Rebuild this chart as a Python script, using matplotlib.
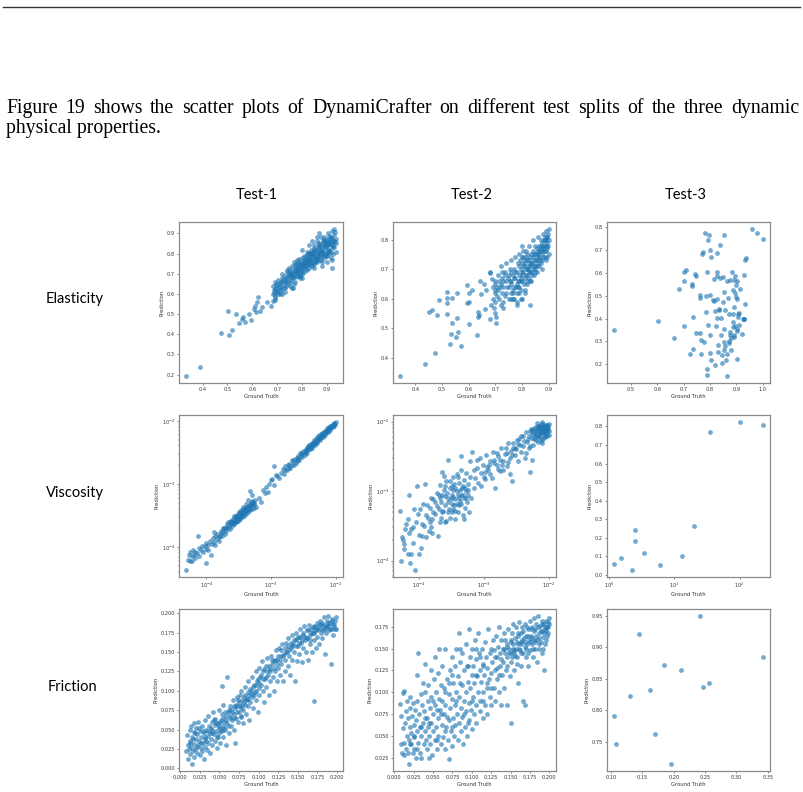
import numpy as np
import matplotlib
matplotlib.use("Agg")
import matplotlib.pyplot as plt

# ---------------- data ----------------
col_titles = ["Test-1", "Test-2", "Test-3"]
row_titles = ["Elasticity", "Viscosity", "Friction"]

paragraph_line1 = "Figure 19 shows the scatter plots of DynamiCrafter on different test splits of the three dynamic"
paragraph_line2 = "physical properties."

# Elasticity, Test-1 (x = ground truth, y = prediction)
elast_t1 = [
    (0.335, 0.195), (0.39, 0.24), (0.475, 0.405), (0.505, 0.395), (0.52, 0.42), (0.503, 0.515),
    (0.535, 0.50), (0.545, 0.455), (0.56, 0.475), (0.562, 0.487), (0.57, 0.46), (0.585, 0.50),
    (0.595, 0.47), (0.605, 0.525), (0.61, 0.54), (0.615, 0.51), (0.62, 0.56), (0.622, 0.585),
    (0.63, 0.515), (0.64, 0.535), (0.66, 0.56), (0.675, 0.54), (0.685, 0.565), (0.69, 0.58),
    (0.685, 0.60), (0.685, 0.64), (0.687, 0.62), (0.69, 0.66), (0.69, 0.59), (0.695, 0.63),
    (0.70, 0.61), (0.70, 0.65), (0.705, 0.67), (0.71, 0.62), (0.71, 0.64), (0.715, 0.66),
    (0.72, 0.60), (0.72, 0.68), (0.725, 0.63), (0.73, 0.66), (0.73, 0.69), (0.735, 0.64),
    (0.74, 0.67), (0.74, 0.71), (0.745, 0.65), (0.75, 0.69), (0.75, 0.72), (0.755, 0.67),
    (0.76, 0.70), (0.76, 0.74), (0.765, 0.63), (0.765, 0.68), (0.77, 0.72), (0.77, 0.70),
    (0.775, 0.75), (0.78, 0.69), (0.78, 0.73), (0.785, 0.71), (0.785, 0.76), (0.79, 0.74),
    (0.79, 0.68), (0.795, 0.72), (0.80, 0.75), (0.80, 0.70), (0.80, 0.78), (0.805, 0.73),
    (0.81, 0.76), (0.81, 0.71), (0.815, 0.79), (0.815, 0.74), (0.82, 0.77), (0.82, 0.72),
    (0.825, 0.75), (0.825, 0.80), (0.83, 0.78), (0.83, 0.73), (0.835, 0.76), (0.835, 0.82),
    (0.84, 0.79), (0.84, 0.74), (0.845, 0.77), (0.845, 0.81), (0.85, 0.75), (0.85, 0.80),
    (0.85, 0.84), (0.855, 0.78), (0.855, 0.82), (0.86, 0.76), (0.86, 0.80), (0.86, 0.86),
    (0.865, 0.83), (0.865, 0.79), (0.87, 0.77), (0.87, 0.81), (0.87, 0.85), (0.875, 0.88),
    (0.875, 0.82), (0.88, 0.79), (0.88, 0.84), (0.88, 0.76), (0.885, 0.86), (0.885, 0.81),
    (0.89, 0.83), (0.89, 0.78), (0.89, 0.88), (0.895, 0.85), (0.895, 0.80), (0.90, 0.82),
    (0.90, 0.87), (0.90, 0.76), (0.905, 0.84), (0.905, 0.90), (0.91, 0.80), (0.91, 0.86),
    (0.91, 0.82), (0.915, 0.88), (0.915, 0.78), (0.92, 0.84), (0.92, 0.91), (0.92, 0.73),
    (0.925, 0.86), (0.925, 0.80), (0.93, 0.89), (0.93, 0.83), (0.93, 0.92), (0.935, 0.87),
    (0.935, 0.81), (0.935, 0.85), (0.79, 0.69), (0.74, 0.72), (0.72, 0.70), (0.86, 0.88),
    (0.87, 0.90), (0.83, 0.84), (0.80, 0.82), (0.84, 0.86), (0.82, 0.81), (0.78, 0.77),
    (0.73, 0.61), (0.71, 0.60), (0.69, 0.57), (0.80, 0.68), (0.85, 0.73), (0.88, 0.74),
    (0.90, 0.79), (0.92, 0.77), (0.77, 0.66), (0.75, 0.64), (0.76, 0.63), (0.81, 0.74),
    (0.83, 0.76), (0.86, 0.78), (0.88, 0.81), (0.90, 0.84), (0.91, 0.85), (0.92, 0.87),
    (0.87, 0.83), (0.84, 0.80), (0.82, 0.78), (0.79, 0.75), (0.77, 0.73), (0.75, 0.70),
    (0.93, 0.86), (0.89, 0.86), (0.85, 0.82), (0.83, 0.80), (0.81, 0.77), (0.78, 0.71),
    (0.688, 0.605), (0.692, 0.625), (0.697, 0.645), (0.702, 0.60), (0.707, 0.635), (0.712, 0.655),
    (0.717, 0.62), (0.722, 0.645), (0.727, 0.675), (0.732, 0.63), (0.737, 0.66), (0.742, 0.69),
    (0.747, 0.705), (0.752, 0.66), (0.757, 0.685), (0.762, 0.715), (0.767, 0.65), (0.772, 0.685),
    (0.777, 0.71), (0.782, 0.745), (0.787, 0.69), (0.792, 0.725), (0.797, 0.76), (0.802, 0.71),
    (0.807, 0.74), (0.812, 0.775), (0.817, 0.725), (0.822, 0.755), (0.827, 0.785), (0.832, 0.745),
    (0.837, 0.775), (0.842, 0.805), (0.847, 0.755), (0.852, 0.785), (0.857, 0.815), (0.862, 0.775),
    (0.867, 0.805), (0.872, 0.835), (0.877, 0.79), (0.882, 0.82), (0.887, 0.85), (0.892, 0.80),
    (0.897, 0.83), (0.902, 0.86), (0.907, 0.815), (0.912, 0.845), (0.917, 0.875), (0.922, 0.825),
    (0.927, 0.855), (0.932, 0.905), (0.878, 0.77), (0.898, 0.79), (0.918, 0.81), (0.858, 0.765),
    (0.838, 0.755), (0.818, 0.745), (0.798, 0.735), (0.778, 0.72), (0.758, 0.705), (0.738, 0.68),
    (0.718, 0.665), (0.698, 0.615), (0.868, 0.845), (0.888, 0.865), (0.908, 0.885), (0.848, 0.825),
    (0.828, 0.805), (0.808, 0.79), (0.788, 0.775), (0.768, 0.76), (0.748, 0.73), (0.926, 0.835),
    (0.914, 0.855), (0.903, 0.808), (0.893, 0.835), (0.883, 0.80), (0.873, 0.815), (0.863, 0.79),
    (0.853, 0.765), (0.843, 0.79), (0.833, 0.77), (0.823, 0.765), (0.813, 0.76), (0.803, 0.755),
    (0.793, 0.70), (0.783, 0.725), (0.773, 0.745), (0.763, 0.69),
]

# Elasticity, Test-2
elast_t2 = [
    (0.344, 0.339), (0.436, 0.380), (0.474, 0.417), (0.453, 0.555), (0.462, 0.562), (0.489, 0.594),
    (0.480, 0.546), (0.519, 0.621), (0.519, 0.603), (0.519, 0.587), (0.537, 0.602), (0.555, 0.619),
    (0.519, 0.549), (0.555, 0.534), (0.536, 0.516), (0.532, 0.479), (0.561, 0.486), (0.553, 0.471),
    (0.531, 0.447), (0.573, 0.439), (0.595, 0.647), (0.611, 0.631), (0.603, 0.619), (0.592, 0.587),
    (0.602, 0.589), (0.601, 0.513), (0.631, 0.478), (0.644, 0.661), (0.658, 0.649), (0.648, 0.617),
    (0.665, 0.629), (0.637, 0.556), (0.640, 0.543), (0.636, 0.539), (0.661, 0.565), (0.681, 0.531),
    (0.702, 0.537), (0.701, 0.518), (0.679, 0.687), (0.688, 0.667), (0.699, 0.651),
    (0.685, 0.58), (0.69, 0.60), (0.69, 0.64), (0.695, 0.57), (0.70, 0.62), (0.70, 0.66), (0.70, 0.59),
    (0.71, 0.63), (0.71, 0.68), (0.715, 0.60), (0.72, 0.65), (0.72, 0.71), (0.725, 0.62), (0.725, 0.67),
    (0.73, 0.59), (0.73, 0.64), (0.735, 0.69), (0.74, 0.66), (0.74, 0.62), (0.74, 0.72),
    (0.75, 0.64), (0.75, 0.68), (0.75, 0.60), (0.755, 0.70), (0.76, 0.66), (0.76, 0.62), (0.76, 0.73),
    (0.765, 0.68), (0.765, 0.60), (0.77, 0.64), (0.77, 0.70), (0.775, 0.67), (0.775, 0.74), (0.78, 0.62),
    (0.78, 0.69), (0.78, 0.59), (0.785, 0.72), (0.785, 0.66), (0.79, 0.68), (0.79, 0.64), (0.79, 0.75),
    (0.795, 0.70), (0.80, 0.66), (0.80, 0.72), (0.80, 0.78), (0.80, 0.60), (0.805, 0.69), (0.805, 0.74),
    (0.81, 0.67), (0.81, 0.71), (0.81, 0.63), (0.815, 0.76), (0.815, 0.70), (0.82, 0.68), (0.82, 0.73),
    (0.82, 0.65), (0.825, 0.71), (0.825, 0.78), (0.83, 0.69), (0.83, 0.74), (0.83, 0.58), (0.835, 0.72),
    (0.835, 0.66), (0.84, 0.70), (0.84, 0.76), (0.84, 0.80), (0.845, 0.73), (0.845, 0.68), (0.85, 0.71),
    (0.85, 0.75), (0.85, 0.78), (0.855, 0.73), (0.855, 0.69), (0.86, 0.76), (0.86, 0.72), (0.86, 0.81),
    (0.865, 0.74), (0.865, 0.78), (0.87, 0.72), (0.87, 0.76), (0.87, 0.80), (0.875, 0.75), (0.875, 0.70),
    (0.88, 0.78), (0.88, 0.74), (0.88, 0.82), (0.885, 0.76), (0.885, 0.80), (0.89, 0.73), (0.89, 0.78),
    (0.89, 0.83), (0.895, 0.77), (0.895, 0.81), (0.90, 0.75), (0.90, 0.80), (0.90, 0.835), (0.898, 0.78),
    (0.893, 0.81), (0.76, 0.60), (0.77, 0.60), (0.78, 0.58), (0.795, 0.60), (0.81, 0.62), (0.70, 0.55),
    (0.72, 0.58), (0.73, 0.57), (0.68, 0.69), (0.79, 0.71), (0.80, 0.69), (0.81, 0.73), (0.82, 0.70),
    (0.83, 0.71), (0.84, 0.72), (0.85, 0.69), (0.86, 0.74), (0.87, 0.78), (0.88, 0.76), (0.89, 0.80),
    (0.80, 0.74), (0.79, 0.66), (0.78, 0.65), (0.77, 0.67), (0.76, 0.69), (0.82, 0.75), (0.83, 0.66),
    (0.705, 0.64), (0.715, 0.66), (0.725, 0.69), (0.735, 0.61), (0.745, 0.64), (0.755, 0.66),
    (0.765, 0.63), (0.775, 0.69), (0.785, 0.64), (0.795, 0.67), (0.805, 0.71), (0.815, 0.68),
    (0.825, 0.73), (0.835, 0.69), (0.845, 0.75), (0.855, 0.77), (0.865, 0.76), (0.875, 0.79),
    (0.885, 0.78), (0.895, 0.79), (0.792, 0.73), (0.802, 0.68), (0.812, 0.72), (0.822, 0.70),
    (0.832, 0.72), (0.842, 0.74), (0.852, 0.73), (0.862, 0.75), (0.872, 0.77), (0.882, 0.80),
    (0.892, 0.76), (0.899, 0.82), (0.888, 0.81), (0.878, 0.77), (0.868, 0.73), (0.858, 0.71),
    (0.848, 0.70), (0.838, 0.68), (0.828, 0.67), (0.818, 0.66), (0.808, 0.65), (0.798, 0.63),
    (0.788, 0.62), (0.778, 0.64), (0.768, 0.62), (0.758, 0.65), (0.748, 0.67), (0.738, 0.68),
    (0.728, 0.66), (0.718, 0.64), (0.708, 0.61), (0.698, 0.63), (0.795, 0.66), (0.805, 0.76),
    (0.815, 0.74), (0.825, 0.69), (0.835, 0.75), (0.845, 0.71), (0.855, 0.75), (0.865, 0.71),
    (0.875, 0.73), (0.885, 0.74), (0.895, 0.74),
]

# Elasticity, Test-3
elast_t3 = [
    (0.437, 0.348), (0.601, 0.390), (0.662, 0.316), (0.684, 0.530), (0.703, 0.605), (0.709, 0.614),
    (0.703, 0.565), (0.703, 0.366), (0.725, 0.245), (0.732, 0.551), (0.732, 0.541), (0.735, 0.407),
    (0.735, 0.266), (0.743, 0.595), (0.746, 0.585), (0.747, 0.337), (0.761, 0.504), (0.761, 0.492),
    (0.763, 0.337), (0.766, 0.245), (0.767, 0.308), (0.768, 0.681), (0.772, 0.691), (0.778, 0.299),
    (0.780, 0.777), (0.785, 0.501), (0.787, 0.605), (0.785, 0.430), (0.788, 0.180), (0.789, 0.152),
    (0.791, 0.372), (0.796, 0.765), (0.794, 0.746), (0.799, 0.700), (0.801, 0.504), (0.801, 0.330),
    (0.802, 0.251), (0.805, 0.671), (0.805, 0.218), (0.813, 0.482), (0.815, 0.572), (0.817, 0.475),
    (0.819, 0.434), (0.819, 0.196), (0.822, 0.367), (0.825, 0.587), (0.825, 0.686), (0.827, 0.488),
    (0.827, 0.403), (0.828, 0.606), (0.829, 0.254), (0.832, 0.286), (0.833, 0.437), (0.834, 0.443),
    (0.837, 0.723), (0.839, 0.578), (0.842, 0.404), (0.842, 0.330), (0.844, 0.240), (0.846, 0.207),
    (0.848, 0.583), (0.851, 0.472), (0.852, 0.768), (0.852, 0.356), (0.853, 0.298), (0.853, 0.264),
    (0.854, 0.518), (0.856, 0.437), (0.857, 0.278), (0.861, 0.219), (0.863, 0.244), (0.866, 0.150),
    (0.866, 0.563), (0.870, 0.492), (0.871, 0.292), (0.873, 0.418), (0.873, 0.303), (0.875, 0.570),
    (0.877, 0.343), (0.877, 0.329), (0.880, 0.264), (0.880, 0.313), (0.885, 0.603), (0.886, 0.524),
    (0.887, 0.418), (0.888, 0.385), (0.888, 0.362), (0.890, 0.330), (0.891, 0.320), (0.892, 0.570),
    (0.893, 0.451), (0.895, 0.585), (0.896, 0.512), (0.897, 0.368), (0.899, 0.547), (0.900, 0.495),
    (0.901, 0.353), (0.902, 0.224), (0.902, 0.565), (0.902, 0.488), (0.903, 0.346), (0.905, 0.419),
    (0.906, 0.407), (0.909, 0.423), (0.910, 0.374), (0.916, 0.529), (0.921, 0.334), (0.924, 0.398),
    (0.928, 0.590), (0.929, 0.400), (0.930, 0.398), (0.932, 0.463), (0.933, 0.655), (0.937, 0.665),
    (0.958, 0.791), (0.978, 0.777), (1.000, 0.748),
]

# Viscosity, Test-1 (log10 of ground truth, log10 of prediction)
visc_t1_log = [
    (-4.31, -4.36), (-4.29, -4.20), (-4.27, -4.12), (-4.26, -4.23), (-4.25, -4.08), (-4.23, -4.15),
    (-4.22, -4.22), (-4.21, -4.05), (-4.19, -4.12), (-4.18, -4.18), (-4.17, -4.08), (-4.135, -3.83),
    (-4.14, -4.10), (-4.12, -4.02), (-4.11, -4.14), (-4.09, -4.05), (-4.07, -3.98), (-4.06, -4.08),
    (-4.00, -4.25), (-4.03, -3.98), (-4.01, -4.04), (-4.00, -3.93), (-3.98, -3.97), (-3.97, -4.05),
    (-3.95, -3.90), (-3.93, -4.13), (-3.92, -3.95), (-3.90, -3.86), (-3.89, -3.92), (-3.87, -3.97),
    (-3.86, -3.82), (-3.84, -3.88), (-3.885, -3.76), (-3.81, -3.84), (-3.80, -3.90), (-3.78, -3.78),
    (-3.77, -3.74), (-3.76, -3.82), (-3.74, -3.76), (-3.73, -3.70), (-3.72, -3.79), (-3.70, -3.68),
    (-3.69, -3.74), (-3.68, -3.64), (-3.67, -3.70), (-3.65, -3.66), (-3.64, -3.60), (-3.63, -3.72),
    (-3.62, -3.63), (-3.61, -3.57), (-3.60, -3.66), (-3.59, -3.60), (-3.58, -3.54), (-3.57, -3.64),
    (-3.56, -3.58), (-3.55, -3.52), (-3.54, -3.61), (-3.53, -3.55), (-3.52, -3.49), (-3.51, -3.58),
    (-3.50, -3.52), (-3.49, -3.46), (-3.48, -3.55), (-3.47, -3.50), (-3.46, -3.44), (-3.45, -3.53),
    (-3.44, -3.47), (-3.43, -3.41), (-3.42, -3.50), (-3.41, -3.44), (-3.40, -3.38), (-3.39, -3.47),
    (-3.38, -3.42), (-3.37, -3.36), (-3.36, -3.44), (-3.35, -3.39), (-3.34, -3.33), (-3.33, -3.42),
    (-3.32, -3.37), (-3.31, -3.30), (-3.30, -3.40), (-3.29, -3.34), (-3.28, -3.28), (-3.27, -3.38),
    (-3.26, -3.32), (-3.25, -3.26), (-3.24, -3.36), (-3.33, -3.11), (-3.30, -3.18), (-3.35, -3.25),
    (-3.18, -3.22), (-3.15, -3.28), (-3.12, -3.10), (-3.10, -3.15), (-3.08, -3.05), (-3.05, -3.12),
    (-3.03, -3.00), (-3.00, -2.94), (-2.98, -2.92), (-2.95, -3.02), (-2.93, -2.85), (-2.90, -2.88),
    (-2.95, -2.71), (-2.85, -2.82), (-2.82, -2.76), (-2.80, -2.84), (-2.78, -2.72), (-2.75, -2.78),
    (-2.72, -2.68), (-2.70, -2.74), (-2.68, -2.62), (-2.65, -2.70), (-2.63, -2.60), (-2.60, -2.64),
    (-2.58, -2.55), (-2.56, -2.62), (-2.54, -2.52), (-2.52, -2.57), (-2.50, -2.48), (-2.48, -2.54),
    (-2.46, -2.44), (-2.44, -2.50), (-2.42, -2.40), (-2.40, -2.45), (-2.38, -2.36), (-2.36, -2.42),
    (-2.34, -2.33), (-2.32, -2.38), (-2.30, -2.29), (-2.28, -2.34), (-2.26, -2.25), (-2.24, -2.30),
    (-2.22, -2.21), (-2.20, -2.26), (-2.18, -2.17), (-2.16, -2.22), (-2.14, -2.14), (-2.12, -2.18),
    (-2.10, -2.10), (-2.08, -2.14), (-2.06, -2.06), (-2.04, -2.10), (-2.02, -2.03), (-2.01, -2.06),
    (-2.00, -2.02), (-2.03, -2.05), (-2.05, -2.08), (-2.07, -2.10), (-2.09, -2.07), (-2.11, -2.13),
    (-2.13, -2.11), (-2.15, -2.17), (-2.17, -2.15), (-2.19, -2.21), (-2.21, -2.19), (-2.23, -2.25),
    (-2.25, -2.22), (-2.27, -2.29), (-2.29, -2.26), (-2.31, -2.33), (-2.33, -2.30), (-2.35, -2.37),
    (-2.37, -2.34), (-2.39, -2.41), (-2.41, -2.38), (-2.43, -2.45), (-2.45, -2.42), (-2.47, -2.49),
    (-2.55, -2.50), (-2.62, -2.66), (-2.66, -2.64), (-2.74, -2.70), (-2.88, -2.90), (-3.45, -3.48),
    (-3.50, -3.45), (-3.55, -3.56), (-3.60, -3.62), (-3.43, -3.37), (-3.38, -3.32),
    (-3.62, -3.58), (-3.58, -3.62), (-3.54, -3.50), (-3.50, -3.56), (-3.46, -3.42), (-3.42, -3.46),
    (-3.38, -3.38), (-3.34, -3.40), (-3.30, -3.30), (-3.27, -3.32), (-3.57, -3.51), (-3.53, -3.58),
    (-3.49, -3.49), (-3.45, -3.45), (-3.41, -3.40), (-3.37, -3.43), (-3.33, -3.34), (-3.29, -3.27),
    (-3.66, -3.61), (-3.71, -3.72), (-3.75, -3.70), (-3.79, -3.82), (-3.83, -3.80), (-2.58, -2.60),
    (-2.52, -2.50), (-2.46, -2.48), (-2.42, -2.43), (-2.38, -2.40), (-2.34, -2.36), (-2.30, -2.32),
    (-2.26, -2.28), (-2.22, -2.23), (-2.18, -2.20), (-2.14, -2.16), (-2.10, -2.12), (-2.06, -2.08),
    (-2.02, -2.04), (-2.04, -2.07), (-2.08, -2.11), (-2.12, -2.15), (-2.16, -2.19), (-2.20, -2.23),
    (-2.24, -2.27), (-2.28, -2.31), (-2.32, -2.35), (-2.36, -2.39), (-2.40, -2.43), (-2.44, -2.46),
    (-2.48, -2.51), (-2.53, -2.55), (-2.60, -2.58), (-2.67, -2.69), (-2.72, -2.75), (-2.79, -2.77),
]

# Viscosity, Test-2 (log10 of ground truth, log10 of prediction)
visc_t2_log = [
    (-4.29, -3.29), (-4.28, -4.01), (-4.26, -3.66), (-4.23, -3.76), (-4.23, -3.83), (-4.22, -3.55),
    (-4.20, -3.47), (-4.17, -3.40), (-4.15, -3.06), (-4.14, -4.04), (-4.12, -3.91), (-4.10, -3.52),
    (-4.07, -4.13), (-4.04, -2.93), (-4.02, -3.33), (-4.00, -3.63), (-3.99, -3.26), (-3.97, -3.82),
    (-3.96, -3.47), (-3.94, -3.19), (-3.91, -2.90), (-3.89, -3.66), (-3.86, -3.38), (-3.84, -3.24),
    (-3.81, -3.52), (-3.78, -3.12), (-3.76, -3.33), (-3.73, -3.02), (-3.71, -3.64), (-3.68, -2.91),
    (-3.65, -2.72), (-3.63, -3.28), (-3.60, -3.07), (-3.58, -3.43), (-3.55, -2.55), (-3.53, -2.86),
    (-3.50, -3.19), (-3.47, -2.98), (-3.45, -3.28), (-3.42, -2.76), (-3.40, -3.05), (-3.37, -3.14),
    (-3.35, -2.50), (-3.32, -2.93), (-3.29, -3.24), (-3.27, -2.74), (-3.24, -3.05), (-3.22, -2.57),
    (-3.19, -2.43), (-3.16, -2.95), (-3.14, -2.81), (-3.11, -2.67), (-3.09, -2.88), (-3.06, -2.53),
    (-3.04, -2.74), (-3.01, -2.62), (-2.98, -2.83), (-2.96, -2.48), (-2.93, -2.69), (-2.91, -2.57),
    (-2.88, -2.81), (-2.86, -2.43), (-2.83, -2.95), (-2.80, -2.62), (-2.78, -2.50), (-2.75, -2.71),
    (-2.73, -2.38), (-2.70, -2.57), (-2.68, -2.46), (-2.65, -2.64), (-2.62, -2.31), (-2.60, -2.53),
    (-2.57, -2.86), (-2.55, -2.38), (-2.52, -2.48), (-2.49, -2.26), (-2.47, -2.57), (-2.44, -2.34),
    (-2.42, -2.43), (-2.39, -2.21), (-2.37, -2.53), (-2.34, -2.29), (-2.31, -2.38), (-2.29, -2.14),
    (-2.28, -2.72), (-2.26, -2.24), (-2.24, -2.33), (-2.21, -2.12), (-2.19, -2.19), (-2.16, -2.29),
    (-2.13, -2.09), (-2.11, -2.17), (-2.10, -2.31), (-2.09, -2.07), (-2.06, -2.14), (-2.05, -2.22),
    (-2.03, -2.05), (-2.02, -2.12), (-2.00, -2.19),
    (-3.70, -3.05), (-3.66, -3.15), (-3.62, -2.98), (-3.60, -3.20), (-3.57, -3.02), (-3.55, -3.10),
    (-3.52, -2.95), (-3.50, -3.05), (-3.48, -3.25), (-3.46, -2.90), (-3.44, -3.12), (-3.41, -3.00),
    (-3.39, -2.88), (-3.38, -3.20), (-3.36, -3.06), (-3.34, -2.95), (-3.33, -3.35), (-3.31, -3.10),
    (-3.30, -2.84), (-3.28, -3.00), (-3.26, -3.15), (-3.25, -2.90), (-3.23, -3.30), (-3.21, -2.80),
    (-3.52, -3.38), (-3.58, -2.85), (-3.64, -3.30), (-3.68, -3.45), (-3.75, -3.15), (-3.45, -3.40),
    (-3.40, -2.80), (-3.35, -2.70), (-3.30, -3.40), (-3.48, -2.80), (-3.62, -2.78),
    (-2.30, -2.20), (-2.27, -2.10), (-2.25, -2.18), (-2.22, -2.25), (-2.20, -2.08), (-2.18, -2.14),
    (-2.17, -2.22), (-2.15, -2.06), (-2.14, -2.12), (-2.13, -2.18), (-2.12, -2.04), (-2.10, -2.10),
    (-2.08, -2.15), (-2.07, -2.06), (-2.06, -2.20), (-2.05, -2.08), (-2.04, -2.12), (-2.03, -2.17),
    (-2.02, -2.06), (-2.01, -2.10), (-2.00, -2.04), (-2.00, -2.13), (-2.08, -2.25), (-2.12, -2.28),
    (-2.18, -2.02), (-2.10, -2.01), (-2.35, -2.15), (-2.40, -2.35), (-2.45, -2.25), (-2.50, -2.40),
    (-2.55, -2.30), (-2.58, -2.42), (-2.62, -2.58), (-2.66, -2.38), (-2.70, -2.70), (-2.75, -2.55),
    (-2.80, -2.45), (-2.85, -2.60), (-2.90, -2.75), (-2.95, -2.65), (-3.00, -2.80), (-3.05, -2.92),
    (-3.10, -2.55), (-3.15, -2.70), (-2.60, -2.75), (-2.35, -2.45), (-2.28, -2.35), (-2.25, -2.55),
    (-4.25, -3.70), (-4.18, -3.90), (-4.15, -3.60), (-4.10, -3.75), (-4.05, -3.45), (-4.00, -3.90),
    (-3.95, -3.65), (-3.92, -3.50), (-3.90, -3.35), (-3.85, -3.58), (-3.82, -3.10), (-3.80, -3.40),
    (-4.08, -3.25), (-4.12, -3.55),
    (-2.24, -2.15), (-2.22, -2.09), (-2.20, -2.17), (-2.19, -2.26), (-2.16, -2.10), (-2.15, -2.20),
    (-2.13, -2.07), (-2.11, -2.23), (-2.09, -2.13), (-2.07, -2.18), (-2.06, -2.10), (-2.04, -2.05),
    (-2.03, -2.14), (-2.01, -2.08), (-2.02, -2.20), (-2.05, -2.15), (-2.09, -2.04), (-2.14, -2.15),
    (-2.17, -2.06), (-2.21, -2.21), (-2.26, -2.12), (-2.32, -2.25), (-2.38, -2.28), (-2.42, -2.20),
    (-2.48, -2.32), (-2.52, -2.38), (-2.56, -2.48), (-2.64, -2.45), (-2.72, -2.62), (-2.78, -2.68),
    (-2.84, -2.55), (-2.92, -2.62), (-2.98, -2.72),
    (-3.72, -3.22), (-3.68, -3.10), (-3.64, -3.05), (-3.60, -2.92), (-3.56, -3.15), (-3.54, -3.25),
    (-3.51, -3.12), (-3.49, -2.92), (-3.47, -3.08), (-3.44, -2.95), (-3.42, -3.18), (-3.39, -3.10),
    (-3.37, -2.98), (-3.35, -3.18), (-3.32, -3.05), (-3.29, -2.95), (-3.27, -3.10), (-3.24, -2.98),
    (-3.20, -3.10), (-3.56, -3.30), (-3.60, -3.45), (-3.40, -3.30), (-3.46, -3.20), (-3.50, -3.30),
    (-3.66, -3.38), (-3.70, -3.25), (-3.78, -3.30), (-3.84, -3.45), (-3.88, -3.20), (-3.80, -3.60),
]

# Viscosity, Test-3 (ground truth on a log axis, prediction linear)
visc_t3_gt = [1.21, 1.53, 2.28, 2.54, 2.54, 3.44, 6.14, 13.2, 20.2, 35.5, 100.0, 225.0]
visc_t3_pred = [0.059, 0.094, 0.029, 0.245, 0.182, 0.120, 0.054, 0.103, 0.266, 0.770, 0.822, 0.806]

# Friction, Test-1
fric_t1 = [
    (0.008, 0.022), (0.009, 0.043), (0.010, 0.012), (0.010, 0.030), (0.011, 0.025), (0.012, 0.050),
    (0.012, 0.018), (0.013, 0.035), (0.014, 0.027), (0.014, 0.055), (0.015, 0.006), (0.015, 0.040),
    (0.016, 0.022), (0.017, 0.031), (0.017, 0.047), (0.018, 0.015), (0.018, 0.058), (0.019, 0.025),
    (0.020, 0.038), (0.020, 0.052), (0.021, 0.020), (0.022, 0.044), (0.023, 0.030), (0.023, 0.060),
    (0.024, 0.035), (0.025, 0.017), (0.025, 0.048), (0.026, 0.026), (0.027, 0.040), (0.028, 0.055),
    (0.028, 0.022), (0.029, 0.033), (0.030, 0.045), (0.030, 0.012), (0.031, 0.028), (0.032, 0.062),
    (0.032, 0.038), (0.033, 0.050), (0.034, 0.024), (0.035, 0.042), (0.035, 0.068), (0.036, 0.032),
    (0.037, 0.055), (0.038, 0.045), (0.038, 0.020), (0.039, 0.038), (0.040, 0.060), (0.040, 0.050),
    (0.041, 0.030), (0.042, 0.072), (0.043, 0.044), (0.044, 0.056), (0.045, 0.035), (0.045, 0.064),
    (0.046, 0.048), (0.047, 0.026), (0.048, 0.058), (0.048, 0.040), (0.049, 0.075), (0.050, 0.052),
    (0.050, 0.045), (0.051, 0.033), (0.052, 0.062), (0.053, 0.048), (0.053, 0.070), (0.054, 0.055),
    (0.055, 0.040), (0.055, 0.082), (0.056, 0.060), (0.057, 0.050), (0.058, 0.068), (0.058, 0.030),
    (0.053, 0.106), (0.060, 0.058), (0.060, 0.118), (0.061, 0.072), (0.062, 0.045), (0.063, 0.065),
    (0.064, 0.080), (0.065, 0.055), (0.065, 0.075), (0.066, 0.062), (0.067, 0.088), (0.068, 0.070),
    (0.069, 0.050), (0.070, 0.078), (0.070, 0.033), (0.071, 0.065), (0.072, 0.092), (0.073, 0.080),
    (0.074, 0.060), (0.075, 0.085), (0.075, 0.072), (0.076, 0.095), (0.077, 0.078), (0.078, 0.066),
    (0.078, 0.100), (0.079, 0.088), (0.080, 0.075), (0.080, 0.058), (0.081, 0.092), (0.082, 0.082),
    (0.083, 0.105), (0.084, 0.070), (0.085, 0.090), (0.086, 0.080), (0.087, 0.112), (0.088, 0.095),
    (0.088, 0.062), (0.089, 0.085), (0.090, 0.100), (0.091, 0.118), (0.092, 0.092), (0.093, 0.078),
    (0.094, 0.108), (0.095, 0.098), (0.096, 0.125), (0.097, 0.088), (0.098, 0.112), (0.099, 0.072),
    (0.100, 0.104), (0.100, 0.130), (0.101, 0.095), (0.102, 0.118), (0.103, 0.108), (0.104, 0.138),
    (0.105, 0.100), (0.106, 0.125), (0.107, 0.085), (0.108, 0.115), (0.109, 0.132), (0.110, 0.105),
    (0.111, 0.142), (0.112, 0.120), (0.113, 0.095), (0.114, 0.128), (0.115, 0.112), (0.116, 0.145),
    (0.117, 0.135), (0.118, 0.118), (0.119, 0.100), (0.120, 0.138), (0.121, 0.125), (0.122, 0.152),
    (0.123, 0.112), (0.124, 0.140), (0.125, 0.130), (0.126, 0.155), (0.127, 0.120), (0.128, 0.145),
    (0.129, 0.135), (0.130, 0.160), (0.131, 0.112), (0.132, 0.148), (0.133, 0.140), (0.134, 0.125),
    (0.135, 0.162), (0.136, 0.150), (0.137, 0.132), (0.138, 0.168), (0.139, 0.145), (0.140, 0.120),
    (0.141, 0.155), (0.142, 0.172), (0.143, 0.140), (0.144, 0.160), (0.145, 0.150), (0.146, 0.112),
    (0.147, 0.165), (0.148, 0.175), (0.149, 0.138), (0.150, 0.158), (0.151, 0.170), (0.152, 0.148),
    (0.153, 0.180), (0.154, 0.162), (0.155, 0.137), (0.156, 0.172), (0.157, 0.155), (0.158, 0.183),
    (0.159, 0.165), (0.160, 0.150), (0.161, 0.178), (0.162, 0.168), (0.163, 0.140), (0.164, 0.185),
    (0.165, 0.172), (0.166, 0.160), (0.167, 0.180), (0.168, 0.150), (0.169, 0.175), (0.170, 0.087),
    (0.170, 0.183), (0.171, 0.165), (0.172, 0.178), (0.173, 0.155), (0.174, 0.188), (0.175, 0.170),
    (0.176, 0.180), (0.177, 0.160), (0.178, 0.190), (0.179, 0.175), (0.180, 0.185), (0.181, 0.168),
    (0.182, 0.178), (0.183, 0.195), (0.184, 0.182), (0.185, 0.148), (0.186, 0.175), (0.187, 0.190),
    (0.188, 0.183), (0.189, 0.196), (0.190, 0.178), (0.191, 0.187), (0.192, 0.135), (0.193, 0.180),
    (0.194, 0.192), (0.195, 0.172), (0.196, 0.185), (0.197, 0.190), (0.198, 0.195), (0.198, 0.180),
    (0.012, 0.032), (0.016, 0.038), (0.019, 0.045), (0.022, 0.028), (0.024, 0.052), (0.027, 0.033),
    (0.029, 0.048), (0.031, 0.040), (0.033, 0.035), (0.036, 0.048), (0.039, 0.052), (0.041, 0.045),
    (0.043, 0.062), (0.046, 0.058), (0.047, 0.040), (0.049, 0.055), (0.051, 0.060), (0.052, 0.050),
    (0.054, 0.065), (0.056, 0.052), (0.057, 0.072), (0.059, 0.062), (0.061, 0.055), (0.062, 0.075),
    (0.064, 0.068), (0.066, 0.072), (0.068, 0.080), (0.069, 0.065), (0.071, 0.082), (0.073, 0.072),
    (0.074, 0.088), (0.076, 0.080), (0.077, 0.068), (0.079, 0.082), (0.081, 0.085), (0.082, 0.095),
    (0.084, 0.088), (0.086, 0.098), (0.087, 0.090), (0.089, 0.102), (0.091, 0.096), (0.093, 0.105),
    (0.094, 0.095), (0.096, 0.108), (0.097, 0.100), (0.099, 0.115), (0.101, 0.110), (0.103, 0.120),
    (0.105, 0.115), (0.107, 0.128), (0.109, 0.118), (0.111, 0.125), (0.113, 0.132), (0.115, 0.125),
    (0.117, 0.140), (0.119, 0.130), (0.121, 0.140), (0.123, 0.135), (0.125, 0.145), (0.127, 0.140),
    (0.129, 0.152), (0.131, 0.145), (0.133, 0.155), (0.135, 0.150), (0.137, 0.158), (0.139, 0.152),
    (0.141, 0.162), (0.143, 0.158), (0.145, 0.165), (0.147, 0.158), (0.149, 0.168), (0.151, 0.162),
    (0.153, 0.170), (0.155, 0.165), (0.157, 0.175), (0.159, 0.170), (0.161, 0.168), (0.163, 0.178),
    (0.165, 0.165), (0.167, 0.175), (0.169, 0.182), (0.171, 0.175), (0.173, 0.182), (0.175, 0.178),
    (0.177, 0.185), (0.179, 0.180), (0.181, 0.188), (0.183, 0.185), (0.185, 0.180), (0.187, 0.184),
    (0.189, 0.188), (0.191, 0.180), (0.193, 0.190), (0.195, 0.185), (0.197, 0.180),
]

# Friction, Test-2
fric_t2 = [
    (0.008, 0.086), (0.009, 0.073), (0.009, 0.040), (0.010, 0.030), (0.011, 0.099), (0.011, 0.059),
    (0.012, 0.101), (0.012, 0.042), (0.013, 0.028), (0.014, 0.065), (0.015, 0.078), (0.015, 0.035),
    (0.016, 0.090), (0.017, 0.050), (0.018, 0.030), (0.018, 0.070), (0.019, 0.018), (0.019, 0.045),
    (0.020, 0.082), (0.020, 0.060), (0.021, 0.095), (0.022, 0.040), (0.022, 0.053), (0.023, 0.073),
    (0.024, 0.030), (0.024, 0.088), (0.025, 0.062), (0.026, 0.035), (0.026, 0.048), (0.027, 0.080),
    (0.028, 0.068), (0.028, 0.025), (0.029, 0.120), (0.030, 0.055), (0.030, 0.090), (0.031, 0.145),
    (0.031, 0.042), (0.032, 0.075), (0.033, 0.030), (0.033, 0.060), (0.034, 0.098), (0.035, 0.050),
    (0.035, 0.025), (0.036, 0.085), (0.037, 0.065), (0.037, 0.110), (0.038, 0.040), (0.039, 0.078),
    (0.040, 0.055), (0.040, 0.132), (0.040, 0.100), (0.041, 0.045), (0.042, 0.070), (0.042, 0.035),
    (0.043, 0.090), (0.044, 0.060), (0.044, 0.108), (0.045, 0.050), (0.046, 0.082), (0.046, 0.040),
    (0.047, 0.125), (0.048, 0.065), (0.048, 0.095), (0.049, 0.028), (0.050, 0.055), (0.050, 0.075),
    (0.051, 0.115), (0.052, 0.045), (0.052, 0.140), (0.053, 0.085), (0.054, 0.060), (0.054, 0.100),
    (0.055, 0.035), (0.056, 0.070), (0.056, 0.122), (0.057, 0.050), (0.058, 0.092), (0.058, 0.150),
    (0.059, 0.080), (0.060, 0.040), (0.060, 0.108), (0.061, 0.062), (0.062, 0.130), (0.062, 0.090),
    (0.063, 0.048), (0.064, 0.075), (0.064, 0.105), (0.065, 0.035), (0.066, 0.085), (0.066, 0.150),
    (0.067, 0.060), (0.068, 0.115), (0.068, 0.072), (0.069, 0.045), (0.070, 0.098), (0.070, 0.023),
    (0.071, 0.068), (0.072, 0.125), (0.072, 0.082), (0.073, 0.055), (0.074, 0.140), (0.074, 0.038),
    (0.075, 0.092), (0.076, 0.070), (0.076, 0.110), (0.077, 0.050), (0.078, 0.130), (0.078, 0.085),
    (0.079, 0.062), (0.080, 0.100), (0.080, 0.150), (0.081, 0.075), (0.082, 0.118), (0.082, 0.045),
    (0.083, 0.168), (0.084, 0.095), (0.084, 0.065), (0.085, 0.135), (0.086, 0.082), (0.086, 0.055),
    (0.087, 0.108), (0.088, 0.145), (0.088, 0.072), (0.089, 0.040), (0.090, 0.125), (0.090, 0.090),
    (0.091, 0.060), (0.092, 0.100), (0.092, 0.155), (0.093, 0.078), (0.094, 0.130), (0.094, 0.050),
    (0.095, 0.112), (0.096, 0.088), (0.096, 0.173), (0.097, 0.068), (0.098, 0.140), (0.098, 0.105),
    (0.099, 0.080), (0.100, 0.120), (0.100, 0.150), (0.100, 0.058), (0.101, 0.095), (0.102, 0.130),
    (0.103, 0.075), (0.103, 0.110), (0.104, 0.160), (0.105, 0.085), (0.105, 0.138), (0.106, 0.065),
    (0.107, 0.118), (0.108, 0.100), (0.108, 0.168), (0.109, 0.145), (0.110, 0.078), (0.110, 0.125),
    (0.111, 0.090), (0.112, 0.112), (0.113, 0.150), (0.114, 0.070), (0.114, 0.132), (0.115, 0.100),
    (0.116, 0.120), (0.117, 0.158), (0.117, 0.085), (0.118, 0.140), (0.119, 0.105), (0.120, 0.128),
    (0.120, 0.075), (0.121, 0.172), (0.122, 0.115), (0.123, 0.095), (0.124, 0.145), (0.125, 0.122),
    (0.125, 0.085), (0.126, 0.135), (0.127, 0.160), (0.128, 0.105), (0.129, 0.148), (0.130, 0.125),
    (0.130, 0.090), (0.131, 0.165), (0.132, 0.140), (0.133, 0.115), (0.134, 0.152), (0.135, 0.100),
    (0.135, 0.175), (0.136, 0.130), (0.137, 0.145), (0.138, 0.085), (0.138, 0.160), (0.139, 0.120),
    (0.140, 0.150), (0.140, 0.135), (0.141, 0.105), (0.142, 0.168), (0.143, 0.145), (0.144, 0.125),
    (0.145, 0.155), (0.145, 0.085), (0.146, 0.140), (0.147, 0.172), (0.148, 0.150), (0.149, 0.118),
    (0.150, 0.160), (0.150, 0.065), (0.150, 0.145), (0.151, 0.135), (0.152, 0.168), (0.153, 0.155),
    (0.153, 0.178), (0.154, 0.145), (0.155, 0.125), (0.156, 0.162), (0.157, 0.150), (0.157, 0.175),
    (0.158, 0.140), (0.159, 0.165), (0.160, 0.155), (0.160, 0.110), (0.161, 0.180), (0.162, 0.148),
    (0.163, 0.168), (0.164, 0.130), (0.164, 0.158), (0.165, 0.175), (0.166, 0.145), (0.166, 0.090),
    (0.167, 0.162), (0.168, 0.085), (0.168, 0.152), (0.169, 0.178), (0.170, 0.140), (0.170, 0.165),
    (0.171, 0.155), (0.172, 0.172), (0.173, 0.130), (0.174, 0.160), (0.175, 0.148), (0.175, 0.182),
    (0.176, 0.165), (0.177, 0.155), (0.178, 0.175), (0.179, 0.140), (0.180, 0.185), (0.180, 0.160),
    (0.181, 0.150), (0.182, 0.172), (0.183, 0.178), (0.184, 0.135), (0.184, 0.160), (0.185, 0.187),
    (0.186, 0.168), (0.187, 0.150), (0.188, 0.176), (0.189, 0.158), (0.190, 0.182), (0.190, 0.145),
    (0.191, 0.170), (0.192, 0.163), (0.193, 0.178), (0.193, 0.125), (0.194, 0.155), (0.195, 0.172),
    (0.196, 0.182), (0.196, 0.160), (0.197, 0.175), (0.198, 0.168), (0.198, 0.180), (0.199, 0.178),
    (0.199, 0.185),
    (0.141, 0.150), (0.143, 0.160), (0.146, 0.152), (0.148, 0.145), (0.151, 0.158), (0.153, 0.150),
    (0.155, 0.148), (0.156, 0.142), (0.158, 0.158), (0.160, 0.168), (0.161, 0.150), (0.163, 0.155),
    (0.165, 0.160), (0.166, 0.170), (0.168, 0.158), (0.170, 0.150), (0.171, 0.175), (0.173, 0.165),
    (0.175, 0.158), (0.176, 0.172), (0.178, 0.162), (0.180, 0.170), (0.182, 0.158), (0.183, 0.165),
    (0.185, 0.175), (0.187, 0.162), (0.189, 0.170), (0.191, 0.178), (0.193, 0.168), (0.194, 0.175),
    (0.196, 0.170), (0.197, 0.165), (0.198, 0.175), (0.152, 0.140), (0.158, 0.132), (0.164, 0.145),
    (0.172, 0.145), (0.179, 0.150), (0.186, 0.155), (0.192, 0.150),
    (0.020, 0.040), (0.025, 0.050), (0.030, 0.035), (0.035, 0.060), (0.040, 0.070), (0.045, 0.065),
    (0.050, 0.090), (0.055, 0.080), (0.060, 0.075), (0.065, 0.100), (0.070, 0.110), (0.075, 0.060),
    (0.080, 0.090), (0.085, 0.110), (0.090, 0.075), (0.095, 0.130), (0.100, 0.090), (0.105, 0.120),
    (0.110, 0.140), (0.115, 0.130), (0.120, 0.110), (0.125, 0.150), (0.130, 0.140), (0.135, 0.120),
    (0.045, 0.025), (0.055, 0.045), (0.065, 0.055), (0.075, 0.120), (0.085, 0.150), (0.095, 0.065),
    (0.105, 0.150), (0.115, 0.090), (0.125, 0.105), (0.132, 0.128), (0.138, 0.138), (0.145, 0.130),
]

# Friction, Test-3
fric_t3_gt = [0.1053, 0.1075, 0.1294, 0.1444, 0.1620, 0.1695, 0.1840, 0.1957, 0.2123, 0.2412, 0.2471, 0.2556, 0.3417]
fric_t3_pred = [0.7918, 0.7474, 0.8225, 0.9214, 0.8315, 0.7627, 0.8725, 0.7156, 0.8646, 0.9489, 0.8373, 0.8426, 0.8849]

# ---------------- figure ----------------
W, H = 804, 792
fig = plt.figure(figsize=(W / 100, H / 100), dpi=100)
fig.patch.set_facecolor("white")

# top rule
fig.add_artist(plt.Line2D([3 / W, 800 / W], [1 - 7 / H, 1 - 7 / H], color="#333333", lw=1.0))

# paragraph (first line justified)
serif = "Liberation Serif"
fs_par = 14.2
renderer = fig.canvas.get_renderer()
words = paragraph_line1.split()
widths = []
for w_ in words:
    t = fig.text(0, 0, w_, fontsize=fs_par, family=serif)
    widths.append(t.get_window_extent(renderer=renderer).width)
    t.remove()
x0, x1 = 6.0, 799.0
gap = (x1 - x0 - sum(widths)) / (len(words) - 1)
xx = x0
for w_, wd in zip(words, widths):
    fig.text(xx / W, 1 - 113 / H, w_, fontsize=fs_par, family=serif, va="baseline", ha="left")
    xx += wd + gap
fig.text(x0 / W, 1 - 133 / H, paragraph_line2, fontsize=fs_par, family=serif, va="baseline", ha="left")

# column / row headers
sans = ["Lato", "DejaVu Sans"]
col_cx = [257, 472, 686]
for cx, t in zip(col_cx, col_titles):
    fig.text(cx / W, 1 - 195 / H, t, fontsize=10.5, family=sans, ha="center", va="center")
row_cy = [299, 493, 687]
row_cx = [75, 75, 72]
for cx, cy, t in zip(row_cx, row_cy, row_titles):
    fig.text(cx / W, 1 - cy / H, t, fontsize=10.5, family=sans, ha="center", va="center")

# axes boxes in pixels: (left, top, right, bottom)
col_lr = [(179, 343), (393, 556), (607, 770)]
row_tb = [(222, 383), (415, 577), (609, 771)]

def make_ax(r, c):
    l, rgt = col_lr[c]
    t, b = row_tb[r]
    ax = fig.add_axes([l / W, 1 - b / H, (rgt - l) / W, (b - t) / H])
    for s in ax.spines.values():
        s.set_color("#8a8a8a")
        s.set_linewidth(0.9)
    ax.tick_params(labelsize=3.6, length=1.6, width=0.4, pad=1.2, colors="#333333", which="major")
    ax.tick_params(length=0.9, width=0.3, which="minor", colors="#333333")
    ax.set_xlabel("Ground Truth", fontsize=3.8, labelpad=1.2, color="#333333")
    ax.set_ylabel("Prediction", fontsize=3.8, labelpad=1.5, color="#333333")
    return ax

blue = "#1f77b4"
kw = dict(s=12, color=blue, alpha=0.62, linewidths=0)

def split(pairs):
    a = np.array(pairs, dtype=float)
    return a[:, 0], a[:, 1]

# Row 1: elasticity
for c, data in enumerate([elast_t1, elast_t2, elast_t3]):
    ax = make_ax(0, c)
    x, y = split(data)
    ax.scatter(x, y, **kw)

# Row 2: viscosity
for c, data in enumerate([visc_t1_log, visc_t2_log]):
    ax = make_ax(1, c)
    lx, ly = split(data)
    ax.scatter(10 ** lx, 10 ** ly, **kw)
    ax.set_xscale("log")
    ax.set_yscale("log")
ax = make_ax(1, 2)
ax.scatter(visc_t3_gt, visc_t3_pred, **kw)
ax.set_xscale("log")

# Row 3: friction
for c, data in enumerate([fric_t1, fric_t2]):
    ax = make_ax(2, c)
    x, y = split(data)
    ax.scatter(x, y, **kw)
ax = make_ax(2, 2)
ax.scatter(fric_t3_gt, fric_t3_pred, **kw)

fig.savefig("out.png", dpi=100)
